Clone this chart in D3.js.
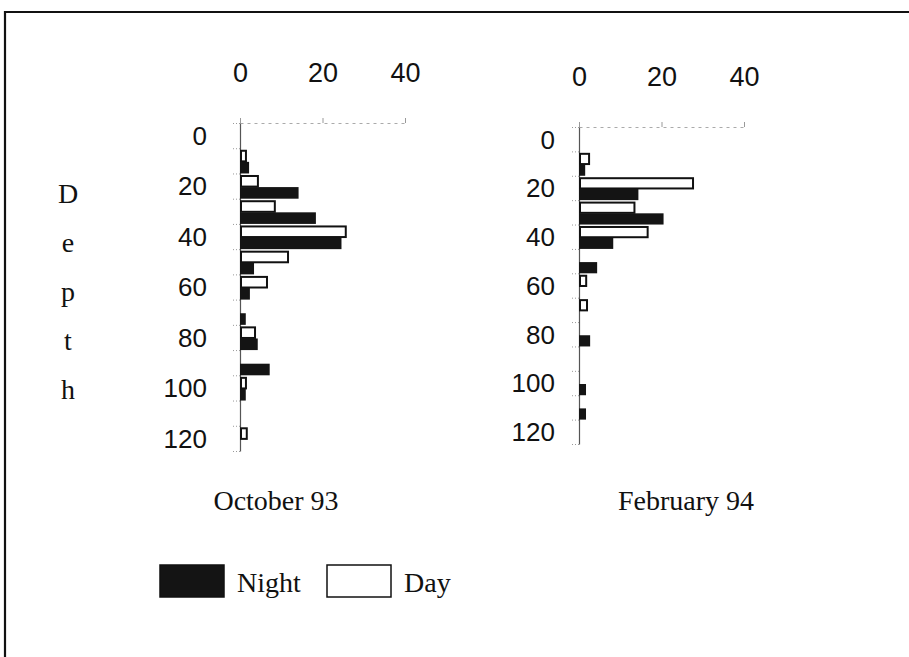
<!DOCTYPE html>
<html>
<head>
<meta charset="utf-8">
<script src="https://cdn.jsdelivr.net/npm/d3@7"></script>
<style>
  body { margin: 0; background: #fff; }
  svg { display: block; }
  .num { font-family: "Liberation Sans", Arial, sans-serif; font-size: 26px; fill: #111; }
  .serif { font-family: "Liberation Serif", "Times New Roman", serif; font-size: 28px; fill: #111; }
</style>
</head>
<body>
<svg id="chart" width="909" height="657"></svg>
<script>
'use strict';

// depth bins (m), start of each 10 m bin
var depthBins = [0, 10, 20, 30, 40, 50, 60, 70, 80, 90, 100, 110, 120];
var depthLabels = [0, 20, 40, 60, 80, 100, 120];
var valueTicks = [0, 20, 40];

var octDay   = [0, 1.2, 4.1, 8.2, 25.4, 11.4, 6.3, 0, 3.4, 0, 1.2, 0, 1.4];
var octNight = [0, 2.2, 14.2, 18.4, 24.6, 3.4, 2.4, 1.4, 4.3, 7.2, 1.4, 0, 0];
var febDay   = [0, 2.2, 27.4, 13.2, 16.4, 0, 1.5, 1.7, 0, 0, 0, 0, 0];
var febNight = [0, 1.5, 14.4, 20.5, 8.3, 4.4, 0, 0, 2.7, 0, 1.7, 1.7, 0];

var depthLetters = ['D', 'e', 'p', 't', 'h'];

var svg = d3.select('#chart');

// frame
svg.append('path')
    .attr('d', 'M5,657 V12 H909')
    .attr('fill', 'none')
    .attr('stroke', '#111')
    .attr('stroke-width', 2.2);

var drawPanel = function (cfg) {
    var x = d3.scaleLinear().domain([0, 40]).range([cfg.x0, cfg.x0 + 165]);
    var y = d3.scaleLinear().domain([0, 130]).range([cfg.top, cfg.bottom]);
    var g = svg.append('g');

    // top value axis
    var xAxis = g.append('g')
        .attr('transform', 'translate(0,' + cfg.top + ')')
        .call(d3.axisTop(x).tickValues(valueTicks).tickSize(5).tickPadding(36).tickSizeOuter(0));
    xAxis.select('.domain').attr('stroke', '#aaa').attr('stroke-dasharray', '3,4');
    xAxis.selectAll('.tick line').attr('stroke', '#999');
    xAxis.selectAll('text').attr('class', 'num').attr('fill', null).style('font-size', '27px');

    // depth axis
    var yAxis = g.append('g')
        .attr('transform', 'translate(' + cfg.x0 + ',0)')
        .call(d3.axisLeft(y).tickValues(depthBins.concat([130])).tickSize(7).tickFormat('').tickSizeOuter(0));
    yAxis.select('.domain').attr('stroke', '#555').attr('stroke-width', 1.2);
    yAxis.selectAll('.tick line').attr('stroke', '#999').attr('stroke-dasharray', '1,2');

    g.selectAll('text.dlab').data(depthLabels).enter().append('text')
        .attr('class', 'num dlab')
        .attr('x', cfg.x0 - cfg.labelGap)
        .attr('y', function (d) { return y(d + 5); })
        .attr('dy', '0.36em')
        .attr('text-anchor', 'end')
        .text(function (d) { return d; });

    var bin = y(10) - y(0);
    var rows = depthBins.map(function (d, i) {
        return { depth: d, day: cfg.day[i], night: cfg.night[i] };
    });

    g.selectAll('rect.day').data(rows.filter(function (r) { return r.day > 0; })).enter()
        .append('rect')
        .attr('class', 'day')
        .attr('x', x(0) + 1)
        .attr('y', function (r) { return y(r.depth) + bin * 0.1; })
        .attr('width', function (r) { return x(r.day) - x(0); })
        .attr('height', bin * 0.42)
        .attr('fill', '#fff')
        .attr('stroke', '#111')
        .attr('stroke-width', 2);

    g.selectAll('rect.night').data(rows.filter(function (r) { return r.night > 0; })).enter()
        .append('rect')
        .attr('class', 'night')
        .attr('x', x(0))
        .attr('y', function (r) { return y(r.depth) + bin * 0.54; })
        .attr('width', function (r) { return x(r.night) - x(0); })
        .attr('height', bin * 0.46)
        .attr('fill', '#141414');

    g.append('text')
        .attr('class', 'serif')
        .attr('x', cfg.titleX)
        .attr('y', 510)
        .attr('text-anchor', 'middle')
        .text(cfg.title);
};

drawPanel({ x0: 240, top: 123, bottom: 451, labelGap: 33, day: octDay, night: octNight, title: 'October 93', titleX: 276 });
drawPanel({ x0: 579, top: 127, bottom: 444, labelGap: 24, day: febDay, night: febNight, title: 'February 94', titleX: 686 });

// vertical axis title
svg.selectAll('text.depth').data(depthLetters).enter().append('text')
    .attr('class', 'serif')
    .attr('x', 68)
    .attr('y', function (d, i) { return 203 + i * 49; })
    .attr('text-anchor', 'middle')
    .text(function (d) { return d; });

// legend
var legend = [
    { label: 'Night', x: 160, fill: '#141414' },
    { label: 'Day', x: 327, fill: '#fff' }
];
var lg = svg.selectAll('g.legend').data(legend).enter().append('g').attr('class', 'legend');
lg.append('rect')
    .attr('x', function (d) { return d.x; })
    .attr('y', 565)
    .attr('width', 64)
    .attr('height', 32)
    .attr('fill', function (d) { return d.fill; })
    .attr('stroke', '#111')
    .attr('stroke-width', 1.5);
lg.append('text')
    .attr('class', 'serif')
    .attr('x', function (d) { return d.x + 77; })
    .attr('y', 592)
    .text(function (d) { return d.label; });
</script>
</body>
</html>
